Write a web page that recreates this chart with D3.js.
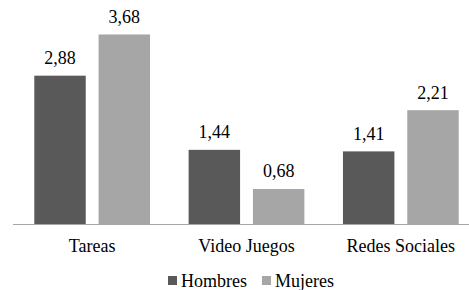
<!DOCTYPE html>
<html>
<head>
<meta charset="utf-8">
<script src="https://cdn.jsdelivr.net/npm/d3@7"></script>
</head>
<body style="margin:0">
<svg id="chart" width="469" height="290"></svg>
<script>
const categories = ["Tareas", "Video Juegos", "Redes Sociales"];
const seriesNames = ["Hombres", "Mujeres"];
const hombres = [2.88, 1.44, 1.41];
const mujeres = [3.68, 0.68, 2.21];
const colors = ["#595959", "#a6a6a6"];

const FONT = "Liberation Serif";

const svg = d3.select("#chart");
const width = 469;
const baseY = 224;

// empty first text node (first text sometimes rendered with a fallback font)
svg.append("text").attr("x", 0).attr("y", 0).attr("font-family", FONT).text("");

const rows = categories.map((c, i) => ({ cat: c, vals: [hombres[i], mujeres[i]] }));

const x = d3.scaleBand().domain(categories).range([15, 478]);
const x1 = d3.scaleBand().domain(seriesNames).range([0, x.bandwidth()]).paddingInner(0.2).paddingOuter(0.3);
const y = d3.scaleLinear().domain([0, 4]).range([baseY, 18]);

const groups = svg.selectAll("g.cat")
  .data(rows)
  .join("g")
  .attr("class", "cat")
  .attr("transform", d => `translate(${x(d.cat)},0)`);

groups.selectAll("rect")
  .data(d => d.vals.map((v, j) => ({ name: seriesNames[j], v, j })))
  .join("rect")
  .attr("x", d => x1(d.name))
  .attr("y", d => y(d.v))
  .attr("width", x1.bandwidth())
  .attr("height", d => baseY - y(d.v))
  .attr("fill", d => colors[d.j]);

groups.selectAll("text.val")
  .data(d => d.vals.map((v, j) => ({ name: seriesNames[j], v })))
  .join("text")
  .attr("class", "val")
  .attr("x", d => x1(d.name) + x1.bandwidth() / 2)
  .attr("y", d => y(d.v) - 11.5)
  .attr("text-anchor", "middle")
  .attr("font-size", 18)
  .attr("font-family", FONT)
  .text(d => d3.format(".2f")(d.v).replace(".", ","));

// axis line
svg.append("line")
  .attr("x1", 13).attr("x2", width)
  .attr("y1", baseY + 0.5).attr("y2", baseY + 0.5)
  .attr("stroke", "#a6a6a6").attr("stroke-width", 1);

// category labels
svg.selectAll("text.catlabel")
  .data(categories)
  .join("text")
  .attr("class", "catlabel")
  .attr("x", d => x(d) + x.bandwidth() / 2)
  .attr("y", 251.5)
  .attr("text-anchor", "middle")
  .attr("font-size", 18)
  .attr("font-family", FONT)
  .text(d => d);

// legend
const legendX = [168, 262];
const legend = svg.selectAll("g.leg")
  .data(seriesNames)
  .join("g")
  .attr("class", "leg")
  .attr("transform", (d, i) => `translate(${legendX[i]},0)`);

legend.append("rect")
  .attr("x", 0).attr("y", 276)
  .attr("width", 9).attr("height", 9)
  .attr("fill", (d, i) => colors[i]);

legend.append("text")
  .attr("x", 13).attr("y", 287)
  .attr("font-size", 18)
  .attr("font-family", FONT)
  .text(d => d);
</script>
</body>
</html>
